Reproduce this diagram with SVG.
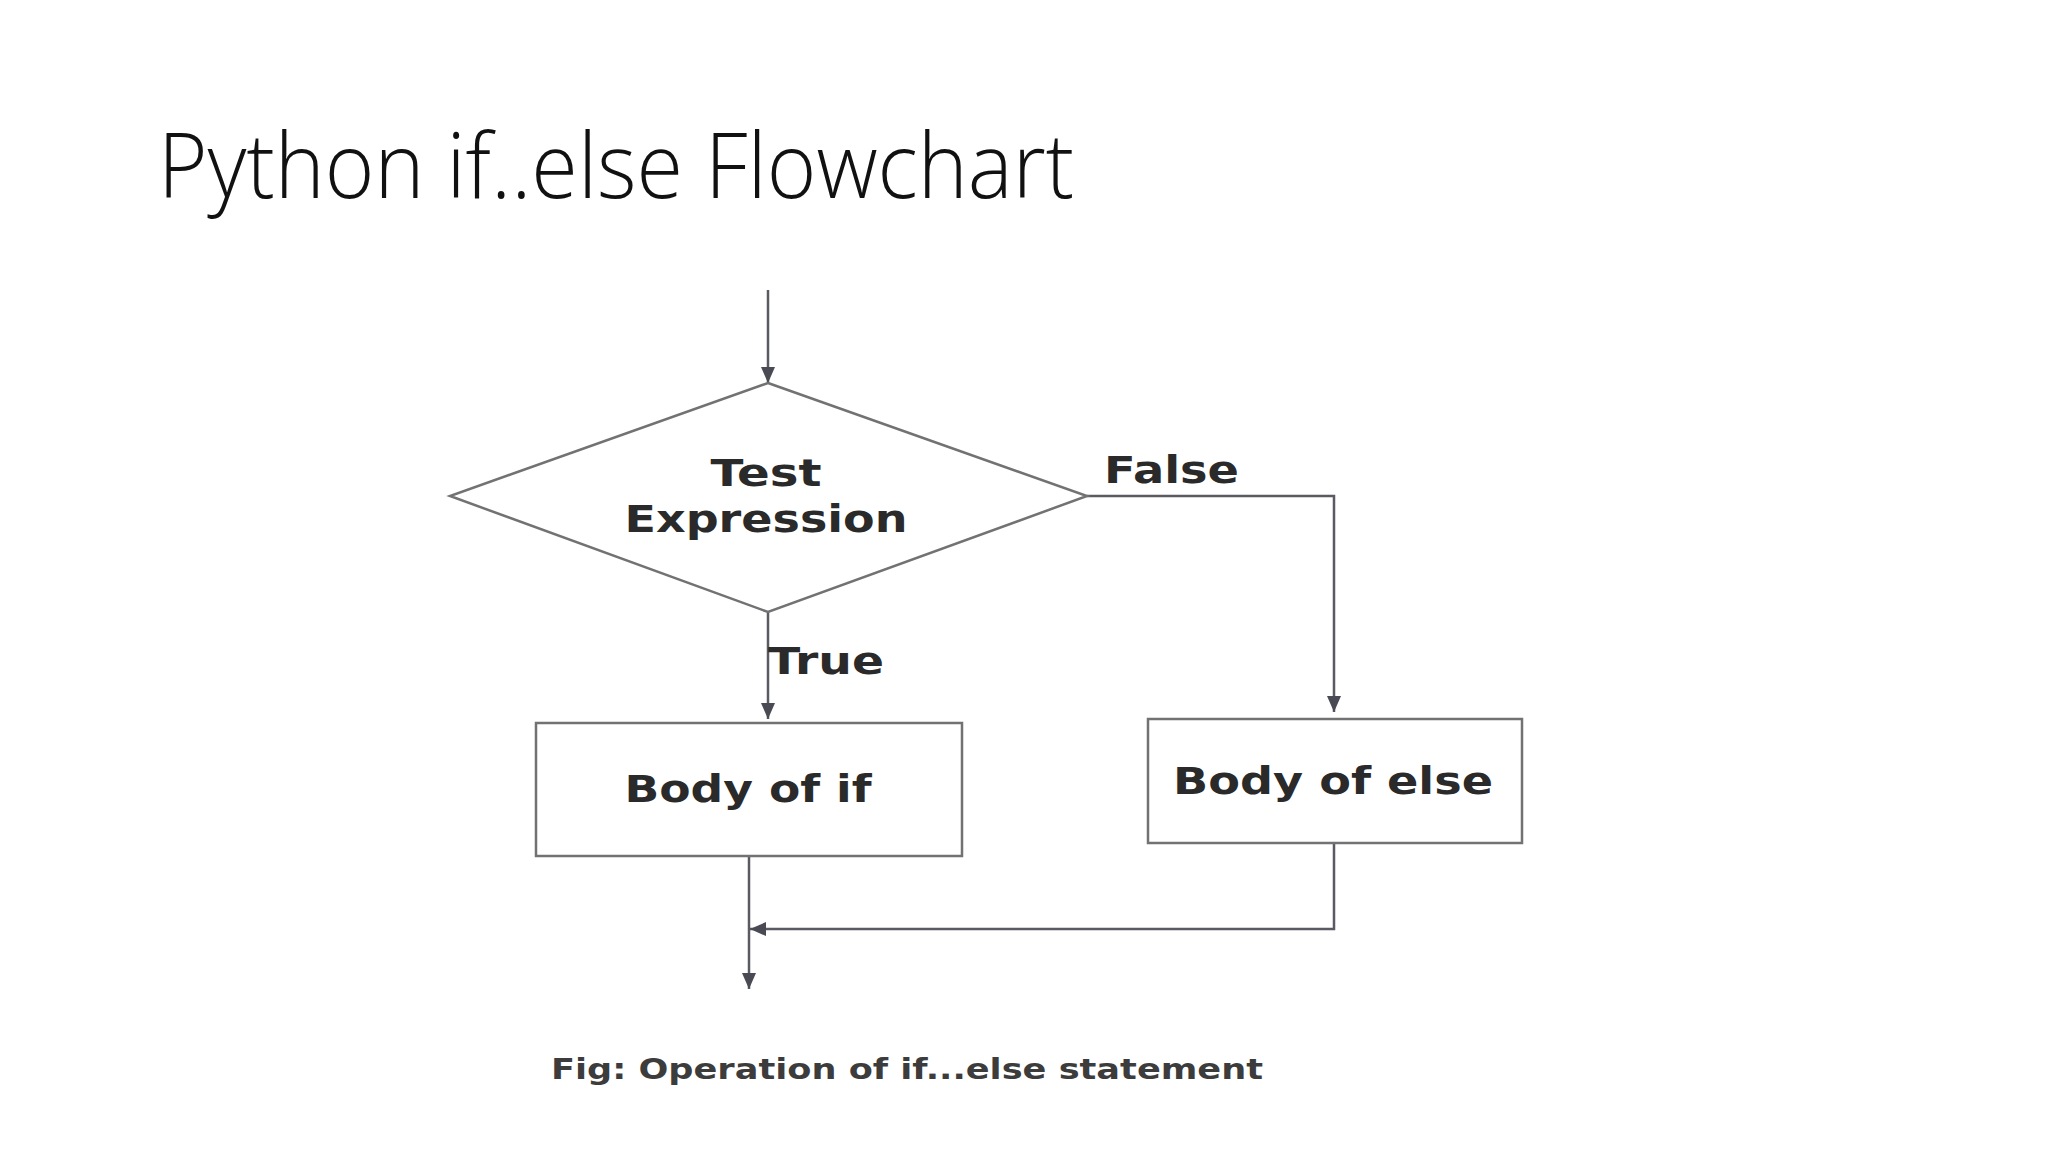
<svg xmlns="http://www.w3.org/2000/svg" width="2048" height="1152" viewBox="0 0 2048 1152">
<style>
.title{font-family:"Open Sans","Liberation Sans",sans-serif;font-weight:300;font-size:91px;fill:#111}
.lbl{font-family:"DejaVu Sans","Liberation Sans",sans-serif;font-weight:bold;font-size:37px;fill:#2a2a2a}
.cap{font-family:"DejaVu Sans","Liberation Sans",sans-serif;font-weight:bold;font-size:28px;fill:#3c3c3c}
.shape{fill:#ffffff;stroke:#727272;stroke-width:2.5}
.conn{fill:none;stroke:#5a5a62;stroke-width:2.5}
</style>
<defs>
<marker id="ah" markerUnits="userSpaceOnUse" markerWidth="16" markerHeight="14" viewBox="0 0 16 14" refX="16" refY="7" orient="auto">
<path d="M0,0 L16,7 L0,14 Z" fill="#4a4a55"/>
</marker>
</defs>
<rect width="2048" height="1152" fill="#ffffff"/>
<text class="title" x="158" y="198" textLength="916" lengthAdjust="spacingAndGlyphs">Python if..else Flowchart</text>
<g id="connectors">
<path class="conn" d="M768,290 L768,383" marker-end="url(#ah)"/>
<path class="conn" d="M1087,496 L1334,496 L1334,712" marker-end="url(#ah)"/>
<path class="conn" d="M768,612 L768,719" marker-end="url(#ah)"/>
<path class="conn" d="M749,856 L749,989" marker-end="url(#ah)"/>
<path class="conn" d="M1334,843 L1334,929 L750,929" marker-end="url(#ah)"/>
<text class="lbl" x="1104" y="483" textLength="135" lengthAdjust="spacingAndGlyphs">False</text>
<text class="lbl" x="768" y="674" textLength="116" lengthAdjust="spacingAndGlyphs">True</text>
</g>
<g id="test">
<polygon class="shape" points="768,383 1087,496 768,612 450,496"/>
<text class="lbl" x="766" y="486" text-anchor="middle" textLength="111" lengthAdjust="spacingAndGlyphs">Test</text>
<text class="lbl" x="766" y="532" text-anchor="middle" textLength="283" lengthAdjust="spacingAndGlyphs">Expression</text>
</g>
<g id="body_if">
<rect class="shape" x="536" y="723" width="426" height="133"/>
<text class="lbl" x="748" y="802" text-anchor="middle" textLength="247" lengthAdjust="spacingAndGlyphs">Body of if</text>
</g>
<g id="body_else">
<rect class="shape" x="1148" y="719" width="374" height="124"/>
<text class="lbl" x="1333" y="794" text-anchor="middle" textLength="320" lengthAdjust="spacingAndGlyphs">Body of else</text>
</g>
<text class="cap" x="551" y="1079" textLength="712" lengthAdjust="spacingAndGlyphs">Fig: Operation of if...else statement</text>
</svg>
